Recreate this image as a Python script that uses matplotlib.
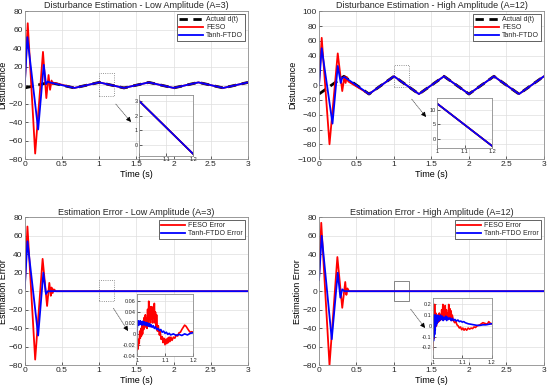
import numpy as np
import matplotlib
matplotlib.use("Agg")
import matplotlib.pyplot as plt
from matplotlib.patches import Rectangle, FancyArrowPatch

# ---- data ----
# actual triangular disturbance, knots
t_tri = [0.0, 0.333, 0.667, 1.0, 1.333, 1.667, 2.0, 2.333, 2.667, 3.0]
d_low = [-3, 3, -3, 3, -3, 3, -3, 3, -3, 3]
d_high = [-12, 12, -12, 12, -12, 12, -12, 12, -12, 12]

# low amplitude estimates (transient, then following d(t))
t_feso_low = [0.0, 0.04, 0.14, 0.245, 0.29, 0.32, 0.34, 0.36, 0.38, 0.40, 0.667, 1.0, 1.333, 1.667, 2.0, 2.333, 2.667, 3.0]
v_feso_low = [0, 67, -74, 36, -14, 11, -5, 5, 1, 2.5, -3, 3, -3, 3, -3, 3, -3, 3]
t_tanh_low = [0.0, 0.035, 0.18, 0.255, 0.285, 0.31, 0.333, 0.667, 1.0, 1.333, 1.667, 2.0, 2.333, 2.667, 3.0]
v_tanh_low = [0, 52, -48, 22, 1, 4, 3, -3, 3, -3, 3, -3, 3, -3, 3]

# high amplitude estimates
t_feso_high = [0.0, 0.036, 0.14, 0.25, 0.31, 0.34, 0.355, 0.37, 0.39, 0.667, 1.0, 1.333, 1.667, 2.0, 2.333, 2.667, 3.0]
v_feso_high = [0, 64, -80, 43, -8, 12, 3, 11, 5, -12, 12, -12, 12, -12, 12, -12, 12]
t_tanh_high = [0.0, 0.036, 0.18, 0.25, 0.29, 0.31, 0.34, 0.667, 1.0, 1.333, 1.667, 2.0, 2.333, 2.667, 3.0]
v_tanh_high = [0, 50, -52, 26, 3, 10, 11, -12, 12, -12, 12, -12, 12, -12, 12]

# estimation errors (main view)
t_efeso_low = [0.0, 0.036, 0.14, 0.24, 0.30, 0.33, 0.35, 0.36, 0.375, 0.39, 0.42, 3.0]
v_efeso_low = [3, 70, -74, 35, -16, 9, -5, 4, -2, 2, 0, 0]
t_etanh_low = [0.0, 0.036, 0.18, 0.25, 0.285, 0.31, 3.0]
v_etanh_low = [3, 54, -48, 20, -3, 0, 0]

t_efeso_high = [0.0, 0.03, 0.14, 0.245, 0.31, 0.35, 0.365, 0.38, 0.40, 3.0]
v_efeso_high = [12, 74, -80, 37, -18, 10, -4, 3, 0, 0]
t_etanh_high = [0.0, 0.036, 0.17, 0.25, 0.285, 0.31, 0.34, 3.0]
v_etanh_high = [12, 60, -52, 20, -7, 2, 0, 0]

# zoomed errors, 1.0 - 1.2 s
tz_feso_low = [1.0, 1.002, 1.004, 1.006, 1.008, 1.01, 1.012, 1.014, 1.016, 1.018, 1.02, 1.022, 1.024,
               1.026, 1.028, 1.03, 1.032, 1.034, 1.036, 1.038, 1.04, 1.042, 1.044, 1.046, 1.048, 1.05,
               1.052, 1.054, 1.056, 1.058, 1.06, 1.062, 1.064, 1.066, 1.068, 1.07, 1.073, 1.076, 1.08,
               1.083, 1.086, 1.09, 1.093, 1.096, 1.1, 1.103, 1.106, 1.109, 1.112, 1.115, 1.118, 1.121,
               1.125, 1.13, 1.135, 1.14, 1.145, 1.15, 1.155, 1.16, 1.165, 1.17, 1.175, 1.18, 1.185,
               1.19, 1.195, 1.2]
vz_feso_low = [-0.03, -0.02, -0.028, -0.01, -0.018, 0.005, -0.008, 0.01, -0.004, 0.015, 0.0, 0.02, 0.008,
               0.03, 0.012, 0.035, 0.015, 0.028, 0.01, 0.045, 0.02, 0.06, 0.025, 0.045, 0.02, 0.05,
               0.028, 0.04, 0.02, 0.05, 0.03, 0.056, 0.02, 0.04, 0.012, 0.035, 0.005, 0.015, -0.002,
               0.004, -0.01, -0.005, -0.016, -0.008, -0.02, -0.01, -0.018, -0.008, -0.016, -0.006, -0.014, -0.006,
               -0.012, -0.006, -0.008, -0.002, -0.004, 0.002, 0.003, 0.008, 0.012, 0.016, 0.014, 0.01, 0.006,
               0.003, 0.004, 0.003]
tz_tanh_low = [1.0, 1.002, 1.004, 1.006, 1.008, 1.01, 1.012, 1.014, 1.016, 1.018, 1.02, 1.023, 1.026,
               1.029, 1.032, 1.035, 1.038, 1.041, 1.044, 1.047, 1.05, 1.054, 1.058, 1.062, 1.066, 1.07,
               1.075, 1.08, 1.085, 1.09, 1.095, 1.1, 1.105, 1.11, 1.115, 1.12, 1.13, 1.14, 1.15, 1.16,
               1.17, 1.18, 1.19, 1.2]
vz_tanh_low = [0.0, 0.018, 0.024, 0.016, 0.023, 0.017, 0.024, 0.018, 0.022, 0.016, 0.023, 0.017, 0.022,
               0.016, 0.021, 0.015, 0.02, 0.014, 0.019, 0.013, 0.017, 0.012, 0.015, 0.01, 0.013, 0.008,
               0.01, 0.006, 0.008, 0.003, 0.005, 0.001, 0.003, -0.001, 0.001, -0.002, 0.0, -0.003, -0.001,
               -0.003, 0.0, -0.002, 0.001, 0.002]

tz_feso_high = [1.0, 1.002, 1.004, 1.006, 1.008, 1.01, 1.012, 1.014, 1.016, 1.018, 1.02, 1.022, 1.024,
                1.026, 1.028, 1.03, 1.032, 1.034, 1.036, 1.038, 1.04, 1.042, 1.044, 1.046, 1.048, 1.05,
                1.052, 1.054, 1.056, 1.058, 1.06, 1.062, 1.064, 1.066, 1.07, 1.074, 1.078, 1.082, 1.086,
                1.09, 1.094, 1.098, 1.102, 1.106, 1.11, 1.115, 1.12, 1.125, 1.13, 1.135, 1.14, 1.145,
                1.15, 1.155, 1.16, 1.165, 1.17, 1.175, 1.18, 1.185, 1.19, 1.195, 1.2]
vz_feso_high = [-0.22, 0.05, -0.12, 0.2, -0.02, 0.12, 0.0, 0.1, 0.03, 0.09, 0.04, 0.12, 0.05,
                0.1, 0.06, 0.15, 0.07, 0.2, 0.08, 0.14, 0.06, 0.19, 0.08, 0.15, 0.07, 0.12,
                0.06, 0.2, 0.08, 0.16, 0.06, 0.14, 0.05, 0.1, 0.05, 0.03, 0.04, 0.01, 0.0,
                -0.02, -0.01, -0.035, -0.02, -0.04, -0.025, -0.04, -0.02, -0.03, -0.02, -0.025, -0.01, -0.015,
                0.0, 0.005, 0.01, 0.02, 0.03, 0.025, 0.02, 0.015, 0.04, 0.025, 0.02]
tz_tanh_high = [1.0, 1.001, 1.002, 1.003, 1.004, 1.005, 1.006, 1.007, 1.008, 1.009, 1.01, 1.012, 1.014,
                1.016, 1.018, 1.02, 1.023, 1.026, 1.029, 1.032, 1.035, 1.038, 1.041, 1.044, 1.047, 1.05,
                1.054, 1.058, 1.062, 1.066, 1.07, 1.075, 1.08, 1.085, 1.09, 1.095, 1.1, 1.105, 1.11,
                1.12, 1.13, 1.14, 1.15, 1.16, 1.17, 1.18, 1.19, 1.2]
vz_tanh_high = [-0.05, 0.08, -0.14, 0.1, -0.1, 0.09, -0.08, 0.1, -0.04, 0.1, 0.0, 0.09, 0.02,
                0.1, 0.04, 0.09, 0.05, 0.1, 0.06, 0.09, 0.05, 0.08, 0.06, 0.09, 0.05, 0.08,
                0.06, 0.075, 0.05, 0.07, 0.05, 0.06, 0.045, 0.055, 0.04, 0.045, 0.035, 0.04, 0.03,
                0.02, 0.015, 0.01, 0.005, 0.005, 0.01, 0.01, 0.015, 0.02]

RED = (1, 0, 0)
BLUE = (0, 0, 1)
DARK = (0.15, 0.15, 0.15)
BOXC = (0.45, 0.45, 0.45)

plt.rcParams['font.family'] = ['Liberation Sans', 'DejaVu Sans']
plt.rcParams['xtick.color'] = DARK
plt.rcParams['ytick.color'] = DARK
plt.rcParams['text.color'] = DARK

fig = plt.figure(figsize=(5.5, 3.88), dpi=100)


def style(ax, fs=6):
    ax.grid(True, color=(0.87, 0.87, 0.87), lw=0.5)
    ax.set_axisbelow(True)
    ax.tick_params(direction='in', labelsize=fs, length=2, width=0.5, pad=1.5)
    for s in ax.spines.values():
        s.set_linewidth(0.6)
        s.set_color((0.55, 0.55, 0.55))


def main_axes(pos, title, ylabel, ylim, yticks):
    ax = fig.add_axes(pos)
    style(ax)
    ax.set_xlim(0, 3)
    ax.set_ylim(*ylim)
    ax.set_xticks([0, 0.5, 1, 1.5, 2, 2.5, 3])
    ax.set_xticklabels(['0', '0.5', '1', '1.5', '2', '2.5', '3'])
    ax.set_yticks(yticks)
    ax.set_title(title, fontsize=6.5, pad=2)
    ax.set_xlabel('Time (s)', fontsize=6.5, labelpad=1.5)
    ax.set_ylabel(ylabel, fontsize=6.5, labelpad=0.5)
    return ax


def add_legend(ax):
    leg = ax.legend(loc='upper right', fontsize=5, handlelength=3.4, framealpha=1, edgecolor=DARK,
                    fancybox=False, borderpad=0.3, labelspacing=0.15, handletextpad=0.5, borderaxespad=0.4)
    leg.get_frame().set_linewidth(0.5)


def inset(pos, lines, ylim, yticks):
    ax = fig.add_axes(pos)
    style(ax, fs=4)
    for t, v, c in lines:
        ax.plot(t, v, color=c, lw=1.2)
    ax.set_xlim(1, 1.2)
    ax.set_ylim(*ylim)
    ax.set_xticks([1, 1.1, 1.2])
    ax.set_xticklabels(['1', '1.1', '1.2'])
    ax.set_yticks(yticks)
    ax.set_yticklabels([f'{y:g}' for y in yticks])
    ax.tick_params(pad=1)
    return ax


def arrow(p0, p1):
    a = (p0[0] / 550, 1 - p0[1] / 388)
    b = (p1[0] / 550, 1 - p1[1] / 388)
    fig.add_artist(FancyArrowPatch(a, b, transform=fig.transFigure, arrowstyle='-',
                                   color=(0.3, 0.3, 0.3), lw=0.5, linestyle=(0, (1.5, 1.2))))
    c = (b[0] - 0.12 * (b[0] - a[0]), b[1] - 0.12 * (b[1] - a[1]))
    fig.add_artist(FancyArrowPatch(c, b, transform=fig.transFigure, arrowstyle='-|>',
                                   mutation_scale=7, color='black', lw=0.5, shrinkA=0, shrinkB=0))


# ---- top left ----
ax = main_axes([0.045, 0.590, 0.406, 0.381], 'Disturbance Estimation - Low Amplitude (A=3)',
               'Disturbance', (-80, 80), range(-80, 81, 20))
ax.plot(t_tri, d_low, color='black', lw=2, ls=(0, (3, 2)), label='Actual d(t)')
ax.plot(t_feso_low, v_feso_low, color=RED, lw=1.3, label='FESO')
ax.plot(t_tanh_low, v_tanh_low, color=BLUE, lw=1.3, label='Tanh-FTDO')
ax.add_patch(Rectangle((1.0, -12), 0.2, 25, fill=False, ec=BOXC, lw=0.6, ls=':'))
add_legend(ax)
inset([0.253, 0.598, 0.098, 0.157],
      [(t_tri, d_low, 'black'), (t_feso_low, v_feso_low, RED), (t_tanh_low, v_tanh_low, BLUE)],
      (-0.75, 3.4), [0, 1, 2, 3])
arrow((114, 102), (131, 122))

# ---- top right ----
ax = main_axes([0.58, 0.590, 0.409, 0.381], 'Disturbance Estimation - High Amplitude (A=12)',
               'Disturbance', (-100, 100), range(-100, 101, 20))
ax.plot(t_tri, d_high, color='black', lw=2, ls=(0, (3, 2)), label='Actual d(t)')
ax.plot(t_feso_high, v_feso_high, color=RED, lw=1.3, label='FESO')
ax.plot(t_tanh_high, v_tanh_high, color=BLUE, lw=1.3, label='Tanh-FTDO')
ax.add_patch(Rectangle((1.0, -3), 0.2, 30, fill=False, ec=BOXC, lw=0.6, ls=':'))
add_legend(ax)
inset([0.795, 0.619, 0.1, 0.129],
      [(t_tri, d_high, 'black'), (t_feso_high, v_feso_high, RED), (t_tanh_high, v_tanh_high, BLUE)],
      (-3, 14), [0, 5, 10])
arrow((410, 97), (426, 117))

# ---- bottom left ----
ax = main_axes([0.045, 0.059, 0.406, 0.381], 'Estimation Error - Low Amplitude (A=3)',
               'Estimation Error', (-80, 80), range(-80, 81, 20))
ax.plot(t_efeso_low, v_efeso_low, color=RED, lw=1.3, label='FESO Error')
ax.plot(t_etanh_low, v_etanh_low, color=BLUE, lw=1.3, label='Tanh-FTDO Error')
ax.add_patch(Rectangle((1.0, -11), 0.2, 23, fill=False, ec=BOXC, lw=0.6, ls=':'))
add_legend(ax)
inset([0.249, 0.082, 0.102, 0.160],
      [(tz_feso_low, vz_feso_low, RED), (tz_tanh_low, vz_tanh_low, BLUE)],
      (-0.041, 0.073), [-0.04, -0.02, 0, 0.02, 0.04, 0.06])
arrow((112, 306), (128, 331))

# ---- bottom right ----
ax = main_axes([0.58, 0.059, 0.409, 0.381], 'Estimation Error - High Amplitude (A=12)',
               'Estimation Error', (-80, 80), range(-80, 81, 20))
ax.plot(t_efeso_high, v_efeso_high, color=RED, lw=1.3, label='FESO Error')
ax.plot(t_etanh_high, v_etanh_high, color=BLUE, lw=1.3, label='Tanh-FTDO Error')
ax.add_patch(Rectangle((1.0, -11), 0.2, 22, fill=False, ec=BOXC, lw=0.6))
add_legend(ax)
inset([0.787, 0.077, 0.107, 0.155],
      [(tz_feso_high, vz_feso_high, RED), (tz_tanh_high, vz_tanh_high, BLUE)],
      (-0.3, 0.26), [-0.2, -0.1, 0, 0.1, 0.2])
arrow((409, 307), (425, 328))

fig.savefig('out.png', dpi=100)
